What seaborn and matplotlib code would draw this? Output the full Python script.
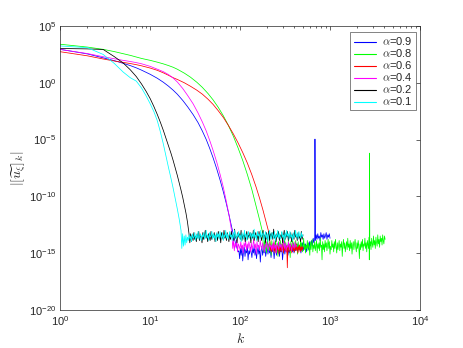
import numpy as np
import pandas as pd
import matplotlib
matplotlib.use("Agg")
import matplotlib.pyplot as plt
import seaborn as sns
from matplotlib.ticker import LogLocator, NullLocator, NullFormatter

sns.set_style("white")
plt.rcParams["font.family"] = ["Liberation Sans", "DejaVu Sans"]
plt.rcParams["mathtext.fontset"] = "cm"

labels = [r"$\alpha$=0.9", r"$\alpha$=0.8", r"$\alpha$=0.6",
          r"$\alpha$=0.4", r"$\alpha$=0.2", r"$\alpha$=0.1"]
colors = ["#0000ff", "#00ff00", "#ff0000", "#ff00ff", "#000000", "#00ffff"]

# decaying part: wavenumber k and log10 of |[u]_k|
k_09 = [1, 2, 3, 4, 5, 6, 7, 8, 10, 12, 14, 16, 18, 20, 23, 26, 30, 34, 38,
        42, 46, 50, 55, 60, 65, 70, 76, 82, 88, 95]
e_09 = [2.95, 2.55, 2.2, 1.95, 1.72, 1.52, 1.32, 1.12, 0.75, 0.4, 0.05,
        -0.3, -0.65, -1.0, -1.55, -2.1, -2.8, -3.5, -4.25, -5.0, -5.8, -6.6,
        -7.6, -8.6, -9.6, -10.6, -11.8, -13.0, -14.0, -14.9]
k_08 = [1, 2, 3, 4, 5, 6, 7, 8, 10, 12, 14, 16, 18, 20, 24, 28, 33, 38, 44,
        50, 57, 65, 74, 84, 95, 107, 120, 135, 150, 165, 178]
e_08 = [3.4, 3.15, 2.95, 2.75, 2.57, 2.42, 2.28, 2.15, 1.98, 1.82, 1.67,
        1.52, 1.37, 1.2, 0.85, 0.5, 0.05, -0.4, -0.95, -1.5, -2.15, -2.9,
        -3.75, -4.7, -5.75, -6.85, -8.05, -9.4, -10.8, -12.1, -13.2]
k_06 = [1, 2, 3, 4, 5, 6, 7, 8, 10, 12, 14, 16, 18, 20, 24, 28, 33, 38, 44,
        50, 57, 65, 74, 84, 95, 107, 120, 135, 150, 165, 180, 195, 212]
e_06 = [2.74, 2.38, 2.1, 1.92, 1.8, 1.7, 1.6, 1.5, 1.3, 1.1, 0.88, 0.66,
        0.45, 0.3, 0.0, -0.3, -0.65, -1.0, -1.45, -1.9, -2.45, -3.05, -3.75,
        -4.5, -5.3, -6.15, -7.05, -8.1, -9.15, -10.2, -11.25, -12.3, -13.4]
k_04 = [1, 2, 3, 4, 5, 6, 7, 8, 10, 12, 14, 16, 18, 20, 23, 26, 30, 34, 38,
        42, 46, 50, 55, 60, 65, 70, 75, 81]
e_04 = [2.94, 2.58, 2.3, 2.12, 1.98, 1.88, 1.78, 1.68, 1.45, 1.2, 0.98,
        0.72, 0.42, 0.08, -0.5, -1.1, -1.85, -2.65, -3.45, -4.25, -5.1,
        -5.95, -7.0, -8.1, -9.2, -10.4, -11.6, -13.2]
k_02 = [1, 2, 3, 4, 5, 6, 7, 8, 9, 10, 11, 12, 13, 14, 15, 16, 17, 18, 19,
        20, 21, 22, 23, 24, 25, 26, 27]
e_02 = [3.03, 2.99, 2.94, 2.3, 1.75, 1.15, 0.55, -0.1, -0.75, -1.4, -2.1,
        -2.8, -3.5, -4.2, -4.9, -5.55, -6.2, -6.85, -7.5, -8.15, -8.8, -9.45,
        -10.1, -10.8, -11.5, -12.3, -13.3]
k_01 = [1, 2, 3, 4, 5, 6, 7, 8, 9, 10, 11, 12, 13, 14, 15, 16, 17, 18, 19,
        20, 21, 22]
e_01 = [3.25, 3.1, 2.5, 1.7, 0.95, 0.45, 0.15, -0.45, -1.15, -1.85, -2.55,
        -3.35, -4.35, -5.4, -6.5, -7.5, -8.4, -9.3, -10.2, -11.1, -12.0,
        -13.0]

# round-off plateau: log10 values read left to right between two k limits
span_09 = (95, 1000)
noise_09 = [
    -14.8, -15.5, -14.6, -15.2, -14.4, -15.7, -14.9, -14.5, -15.3, -14.7,
    -15.0, -14.4, -15.6, -14.8, -15.1, -14.5, -14.9, -15.4, -14.6, -15.0,
    -14.3, -15.2, -14.7, -15.5, -14.9, -14.5, -15.1, -14.6, -15.8, -14.8,
    -14.4, -15.2, -14.7, -15.0, -14.5, -15.3, -14.8, -14.6, -15.1, -14.4,
    -15.0, -14.7, -15.4, -14.5, -14.9, -14.6, -15.5, -14.8, -14.4, -15.2,
    -14.6, -15.0, -14.3, -15.3, -14.7, -14.9, -14.5, -15.6, -14.8, -14.4,
    -15.1, -14.6, -14.9, -14.3, -15.2, -14.7, -15.0, -14.5, -14.8, -14.4,
    -14.9, -14.5, -15.0, -14.3, -14.8, -14.6, -14.2, -14.9, -14.4, -14.7,
    -14.3, -15.0, -14.5, -14.1, -14.8, -14.4, -14.6, -14.2, -14.9, -14.5,
    -14.2, -14.7, -14.0, -14.5, -14.3, -13.9, -14.4, -13.7, -14.1, -13.6,
    -13.9, -13.4, -13.8, -13.3, -13.7, -13.5, -13.9, -13.2, -13.6, -13.4,
    -13.8, -13.3, -13.7, -13.5, -13.2, -13.8, -13.4, -13.6, -13.3, -13.7]
span_08 = (178, 4100)
noise_08 = [
    -14.3, -14.9, -13.9, -14.6, -14.1, -15.0, -14.4, -13.8, -14.7, -14.2,
    -14.8, -14.0, -14.5, -15.2, -13.9, -14.6, -14.3, -14.9, -14.1, -14.7,
    -13.8, -14.5, -14.9, -14.2, -15.3, -14.0, -14.6, -14.4, -13.9, -14.8,
    -14.2, -14.7, -14.0, -15.0, -14.4, -13.7, -14.6, -14.1, -14.9, -14.3,
    -14.8, -13.9, -14.5, -14.2, -15.4, -14.0, -14.7, -14.3, -13.8, -14.6,
    -14.1, -14.9, -14.4, -13.9, -14.7, -14.2, -15.1, -14.0, -14.5, -14.3,
    -14.8, -13.8, -14.6, -14.1, -14.9, -14.4, -13.7, -14.7, -14.2, -15.0,
    -14.3, -14.6, -13.9, -14.8, -14.1, -14.5, -15.2, -14.0, -14.7, -14.2,
    -13.8, -14.9, -14.3, -14.6, -14.0, -14.8, -14.4, -13.9, -15.0, -14.2,
    -14.6, -14.1, -14.8, -13.7, -14.5, -14.3, -15.6, -14.0, -14.7, -14.2,
    -14.9, -13.9, -14.5, -14.1, -14.8, -14.3, -13.8, -14.6, -14.0, -15.1,
    -14.4, -14.7, -13.9, -14.5, -14.2, -14.9, -14.0, -14.6, -13.8, -14.4,
    -15.0, -14.1, -14.7, -14.3, -13.9, -14.8, -14.2, -14.5, -14.0, -15.3,
    -14.3, -13.8, -14.6, -14.1, -14.9, -14.4, -14.0, -14.7, -13.7, -14.5,
    -14.2, -14.8, -13.9, -14.6, -14.1, -15.1, -14.3, -14.0, -14.7, -14.2,
    -13.8, -14.5, -14.9, -14.1, -14.6, -13.9, -14.4, -15.5, -14.2, -14.7,
    -14.0, -14.5, -13.8, -14.8, -14.2, -14.4, -13.7, -14.6, -14.1, -14.9,
    -13.9, -14.3, -14.6, -13.6, -14.4, -14.0, -14.7, -13.7, -14.2, -14.5,
    -13.5, -14.3, -13.9, -14.6, -13.6, -14.1, -14.4, -13.4, -14.2, -13.8,
    -14.5, -13.5, -14.0, -13.7, -14.3, -13.4, -13.9, -14.2, -13.5, -13.8]
span_06 = (212, 500)
noise_06 = [
    -14.2, -14.8, -14.4, -14.9, -14.3, -14.7, -14.1, -14.8, -14.5, -15.0,
    -14.3, -14.6, -14.9, -14.2, -14.7, -14.4, -15.1, -14.5, -14.8, -14.3,
    -14.9, -14.4, -14.7, -14.2, -15.0, -14.6, -14.3, -14.8, -14.5, -14.9,
    -14.4, -16.3, -14.6, -14.3, -14.9, -14.5, -14.2, -14.8, -14.4, -15.0,
    -14.6, -14.3, -14.8, -14.5, -14.9, -14.4, -14.7, -14.2, -14.8, -14.5,
    -15.0, -14.4, -14.7, -14.3, -14.9, -14.5, -14.8, -14.4, -14.7, -14.5]
span_04 = (81, 425)
noise_04 = [
    -14.6, -13.9, -14.8, -14.1, -14.5, -13.8, -14.9, -14.2, -14.4, -14.7,
    -14.0, -14.6, -14.3, -15.0, -14.1, -14.5, -13.9, -14.8, -14.2, -14.6,
    -14.0, -14.4, -14.9, -14.1, -14.7, -14.3, -13.8, -14.6, -14.2, -15.1,
    -14.0, -14.5, -14.3, -14.8, -13.9, -14.4, -14.7, -14.1, -14.5, -14.9,
    -14.2, -14.6, -14.0, -14.4, -14.8, -14.1, -14.5, -14.3, -14.7, -14.2,
    -14.9, -13.9, -14.6, -14.3, -15.0, -14.1, -14.4, -14.7, -14.0, -14.5,
    -14.2, -14.8, -14.4, -13.9, -14.6, -14.1, -14.9, -14.3, -14.5, -14.0,
    -14.7, -14.2, -14.5, -14.8, -14.1, -14.4, -14.6, -14.0, -14.5, -14.3]
span_02 = (27, 500)
noise_02 = [
    -14.1, -13.3, -14.0, -13.4, -13.9, -13.2, -13.8, -13.5, -14.0, -13.3,
    -13.7, -13.1, -13.9, -13.4, -13.6, -14.1, -13.2, -13.8, -13.5, -13.0,
    -13.7, -13.4, -14.0, -13.3, -13.6, -13.9, -13.1, -13.8, -13.4, -13.6,
    -13.2, -14.0, -13.5, -13.3, -13.9, -13.1, -13.7, -13.4, -14.1, -13.2,
    -13.6, -13.8, -13.0, -13.7, -13.4, -13.9, -13.2, -13.5, -14.0, -13.3,
    -13.8, -13.1, -13.6, -13.4, -13.9, -12.9, -13.7, -13.5, -14.1, -13.2,
    -13.6, -13.3, -13.8, -13.0, -13.9, -13.4, -13.7, -13.2, -14.0, -13.5,
    -13.1, -13.8, -13.4, -13.6, -13.2, -14.1, -13.3, -13.7, -13.0, -13.9,
    -13.5, -13.2, -13.8, -13.4, -14.0, -13.1, -13.6, -13.3, -13.9, -13.5,
    -13.0, -13.7, -13.4, -14.1, -13.2, -13.8, -13.5, -13.1, -13.9, -13.3,
    -13.6, -13.2, -13.8, -12.9, -13.7, -13.4, -14.0, -13.3, -13.6, -13.1,
    -13.9, -13.4, -13.7, -13.2, -14.1, -13.5, -13.0, -13.8, -13.3, -13.6,
    -13.1, -13.9, -13.4, -13.7, -13.2, -14.0, -13.5, -13.3, -13.8, -13.0,
    -13.6, -13.4, -13.9, -13.2, -13.7, -13.5, -14.0, -13.1, -13.8, -13.4]
span_01 = (22, 500)
noise_01 = [
    -14.6, -13.3, -14.4, -13.5, -14.3, -13.4, -14.1, -13.6, -13.9, -13.4,
    -13.8, -13.5, -14.0, -13.3, -13.7, -13.6, -13.2, -13.9, -13.4, -13.7,
    -13.1, -13.8, -13.5, -13.3, -13.9, -13.4, -13.6, -13.2, -13.8, -13.5,
    -13.0, -13.7, -13.4, -13.9, -13.2, -13.6, -13.5, -13.1, -13.8, -13.3,
    -13.7, -13.4, -14.0, -13.2, -13.6, -13.3, -13.8, -13.1, -13.5, -13.7,
    -13.2, -13.9, -13.4, -13.6, -13.0, -13.7, -13.3, -13.8, -13.5, -13.1,
    -13.6, -13.4, -13.9, -13.2, -13.7, -13.0, -13.5, -13.8, -13.3, -13.6,
    -13.1, -13.7, -13.4, -14.0, -13.2, -13.5, -13.8, -13.0, -13.6, -13.3,
    -13.9, -13.4, -13.1, -13.7, -13.5, -13.2, -13.8, -13.3, -13.6, -12.9,
    -13.7, -13.4, -13.9, -13.1, -13.5, -13.3, -13.8, -13.0, -13.6, -13.4,
    -13.2, -13.9, -13.5, -13.1, -13.7, -13.3, -14.0, -13.4, -13.0, -13.6,
    -13.8, -13.2, -13.5, -13.7, -13.1, -13.9, -13.4, -13.6, -13.0, -13.7,
    -13.3, -13.8, -13.5, -13.1, -13.6, -13.4, -13.9, -13.2, -13.7, -13.0,
    -13.5, -13.3, -13.8, -13.1, -13.6, -13.4, -13.9, -13.2, -13.7, -13.5,
    -13.0, -13.6, -13.3, -13.8, -13.1, -13.5, -13.7, -13.2, -13.6, -13.4]

# isolated spikes in the plateau
spike_k_09 = [672, 680, 688]
spike_e_09 = [-13.8, -4.96, -13.6]
spike_k_08 = [2735, 2750, 2765]
spike_e_08 = [-15.6, -6.2, -14.3]

series = [
    (k_09, e_09, span_09, noise_09, spike_k_09, spike_e_09),
    (k_08, e_08, span_08, noise_08, spike_k_08, spike_e_08),
    (k_06, e_06, span_06, noise_06, [], []),
    (k_04, e_04, span_04, noise_04, [], []),
    (k_02, e_02, span_02, noise_02, [], []),
    (k_01, e_01, span_01, noise_01, [], []),
]

frames = []
for i, (kk, ee, span, noise, sk, se) in enumerate(series):
    kn = np.geomspace(span[0], span[1], len(noise) + 1)[1:]
    k_all = np.concatenate([kk, kn, sk])
    e_all = np.concatenate([ee, noise, se])
    d = pd.DataFrame({"k": k_all, "v": 10.0 ** e_all,
                      "alpha": labels[i], "order": i})
    frames.append(d.sort_values("k"))
df = pd.concat(frames, ignore_index=True)

fig = plt.figure(figsize=(4.64, 3.48), dpi=100)
ax = fig.add_axes([0.13, 0.11, 0.775, 0.815])

sns.lineplot(data=df, x="k", y="v", hue="alpha", hue_order=labels,
             palette=dict(zip(labels, colors)), estimator=None, sort=False,
             lw=0.55, ax=ax)

ax.set_xscale("log")
ax.set_yscale("log")
ax.set_xlim(1, 1e4)
ax.set_ylim(1e-20, 1e5)
ax.set_yticks([1e-20, 1e-15, 1e-10, 1e-5, 1e0, 1e5])
ax.yaxis.set_minor_locator(NullLocator())
ax.xaxis.set_major_locator(LogLocator(base=10, numticks=10))
ax.xaxis.set_minor_locator(LogLocator(base=10, subs=np.arange(2, 10), numticks=10))
ax.xaxis.set_minor_formatter(NullFormatter())

axc = "#262626"
for s in ax.spines.values():
    s.set_color(axc)
    s.set_linewidth(0.5)
ax.tick_params(which="both", direction="in", top=True, right=True,
               colors=axc, width=0.5, labelsize=8)
ax.tick_params(which="major", length=2.8, pad=3)
ax.tick_params(which="minor", length=1.6)

ax.set_xlabel(r"$k$", fontsize=10, color=axc, labelpad=3)
ax.set_ylabel(r"$|[\widetilde{u_{\xi}}]_k|$", fontsize=10, color=axc)
ax.yaxis.set_label_coords(-0.09, 0.5)

handles, labs = ax.get_legend_handles_labels()
leg = ax.legend(handles, labs, loc="upper right", bbox_to_anchor=(0.988, 0.98),
                borderaxespad=0, fontsize=8, frameon=True, fancybox=False,
                handlelength=2.0, handleheight=0.5, handletextpad=0.5,
                labelspacing=0.0, borderpad=0.3)
leg.get_frame().set_edgecolor(axc)
leg.get_frame().set_linewidth(0.5)
for line, c in zip(leg.get_lines(), colors):
    line.set_linewidth(0.8)
    line.set_color(c)

fig.savefig("out.png", dpi=100)
